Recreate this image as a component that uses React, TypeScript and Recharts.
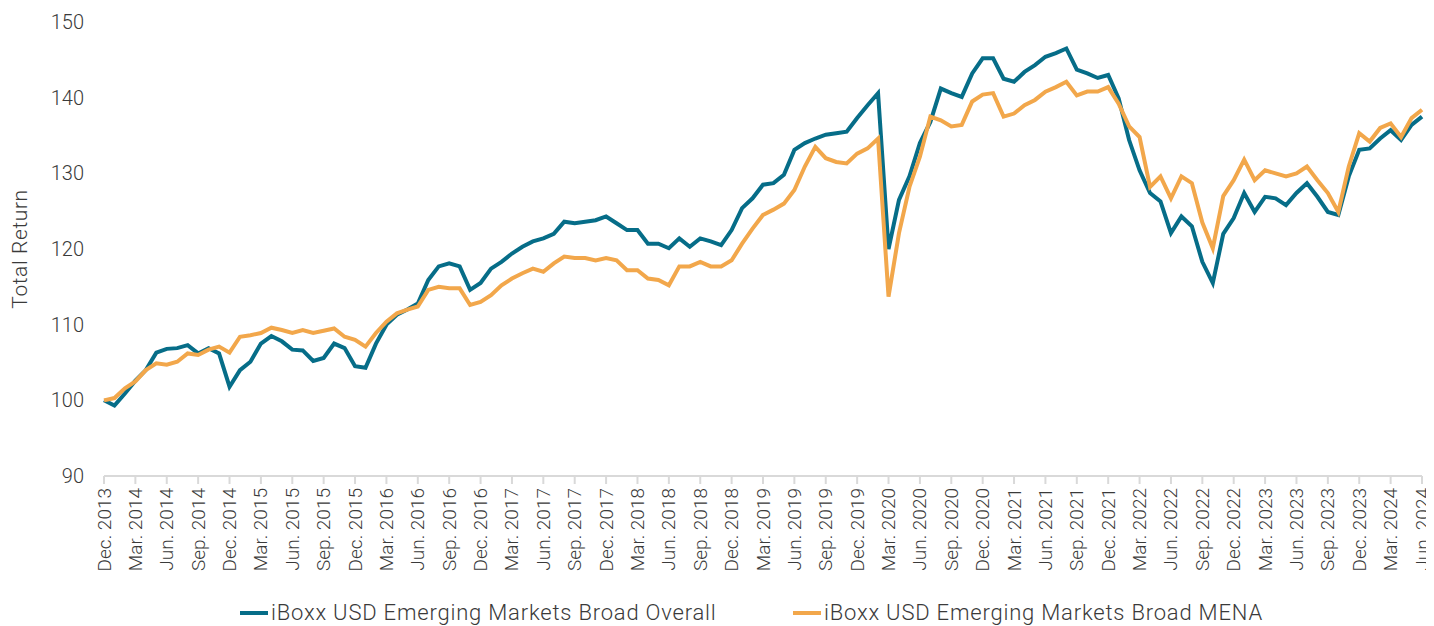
import { LineChart, Line, XAxis, YAxis, Legend, Label } from "recharts";

// monthly index levels, Dec. 2013 .. Jun. 2024
const overall = [
  100.0, 99.3, 100.9, 102.6, 104.0, 106.3, 106.8, 106.9, 107.3, 106.2, 106.9, 106.2,
  101.8, 104.0, 105.1, 107.5, 108.5, 107.8, 106.7, 106.6, 105.2, 105.6, 107.5, 106.9,
  104.5, 104.3, 107.5, 110.0, 111.3, 112.0, 112.8, 115.9, 117.7, 118.1, 117.7, 114.6,
  115.5, 117.4, 118.3, 119.4, 120.3, 121.0, 121.4, 122.0, 123.6, 123.4, 123.6, 123.8,
  124.3, 123.4, 122.5, 122.5, 120.7, 120.7, 120.1, 121.4, 120.3, 121.4, 121.0, 120.5,
  122.5, 125.4, 126.7, 128.5, 128.7, 129.8, 133.1, 134.0, 134.6, 135.1, 135.3, 135.5,
  137.3, 139.0, 140.6, 120.0, 126.5, 129.6, 134.0, 136.8, 141.2, 140.6, 140.1, 143.2,
  145.2, 145.2, 142.5, 142.1, 143.4, 144.3, 145.4, 145.9, 146.5, 143.7, 143.2, 142.6,
  143.0, 139.9, 134.4, 130.4, 127.4, 126.3, 122.1, 124.3, 123.0, 118.3, 115.5, 122.0,
  124.1, 127.4, 124.9, 126.9, 126.7, 125.8, 127.4, 128.7, 126.9, 124.9, 124.5, 129.6,
  133.1, 133.3, 134.6, 135.7, 134.4, 136.4, 137.5,
];

const mena = [
  100.0, 100.3, 101.6, 102.5, 104.0, 104.9, 104.7, 105.1, 106.2, 106.0, 106.7, 107.1,
  106.3, 108.4, 108.6, 108.9, 109.6, 109.3, 108.9, 109.3, 108.9, 109.2, 109.5, 108.4,
  108.0, 107.1, 108.9, 110.4, 111.5, 112.0, 112.4, 114.6, 115.0, 114.8, 114.8, 112.6,
  113.0, 113.9, 115.2, 116.1, 116.8, 117.4, 117.0, 118.1, 119.0, 118.8, 118.8, 118.5,
  118.8, 118.5, 117.2, 117.2, 116.1, 115.9, 115.2, 117.7, 117.7, 118.3, 117.7, 117.7,
  118.5, 120.7, 122.7, 124.5, 125.2, 126.0, 127.8, 130.9, 133.5, 132.0, 131.5, 131.3,
  132.6, 133.3, 134.6, 113.7, 122.1, 128.2, 132.2, 137.5, 137.0, 136.2, 136.4, 139.5,
  140.4, 140.6, 137.5, 137.9, 139.0, 139.7, 140.8, 141.4, 142.1, 140.3, 140.8, 140.8,
  141.4, 139.2, 136.2, 134.8, 128.2, 129.6, 126.7, 129.6, 128.7, 123.5, 120.1, 127.0,
  129.1, 131.8, 129.1, 130.4, 130.0, 129.6, 130.0, 130.9, 129.1, 127.4, 124.9, 130.9,
  135.3, 134.2, 136.0, 136.6, 134.8, 137.3, 138.4,
];

const quarterMonths = ["Dec.", "Mar.", "Jun.", "Sep."];
const firstYear = 2013;
const quarterCount = 43;
const yTicks = [90, 100, 110, 120, 130, 140, 150];

const seriesNames = {
  overall: "iBoxx USD Emerging Markets Broad Overall",
  mena: "iBoxx USD Emerging Markets Broad MENA",
};

const TEAL = "#066d88";
const ORANGE = "#f2a74b";
const TEXT = "#3a3a3a";
const FONT = "Roboto, sans-serif";

const xTicks = Array.from({ length: quarterCount }, (_, i) => i * 3);
const tickLabel = (m: number) => {
  const q = m / 3;
  const year = firstYear + Math.floor((q + 3) / 4);
  return `${quarterMonths[q % 4]} ${year}`;
};

const data = overall.map((v, i) => ({ m: i, overall: v, mena: mena[i] }));

const XTick = ({ x, y, payload }: any) => (
  <text
    x={x}
    y={y}
    transform={`rotate(-90, ${x}, ${y})`}
    textAnchor="end"
    dominantBaseline="central"
    fontFamily={FONT}
    fontWeight={300}
    fontSize={19}
    fill={TEXT}
  >
    {tickLabel(payload.value)}
  </text>
);

const YTick = ({ x, y, payload }: any) => (
  <text
    x={x}
    y={y}
    textAnchor="end"
    dominantBaseline="central"
    fontFamily={FONT}
    fontWeight={300}
    fontSize={20}
    fill={TEXT}
  >
    {payload.value}
  </text>
);

const LegendBox = () => (
  <div
    style={{
      position: "relative",
      height: 30,
      fontFamily: FONT,
      fontWeight: 300,
      fontSize: 22,
      letterSpacing: 0.8,
      color: TEXT,
    }}
  >
    {[
      { key: "overall", color: TEAL, left: 232 },
      { key: "mena", color: ORANGE, left: 785 },
    ].map((it) => (
      <div
        key={it.key}
        style={{ position: "absolute", left: it.left, top: 4, display: "flex", alignItems: "center", whiteSpace: "nowrap" }}
      >
        <span style={{ display: "inline-block", width: 28, height: 4, background: it.color, marginRight: 3 }} />
        <span>{seriesNames[it.key as keyof typeof seriesNames]}</span>
      </div>
    ))}
  </div>
);

export default function App() {
  return (
    <LineChart width={1426} height={618} data={data} margin={{ top: 14, right: 12, bottom: 0, left: 0 }}>
      <XAxis
        type="number"
        dataKey="m"
        domain={[0, 126]}
        ticks={xTicks}
        interval={0}
        height={120}
        tick={<XTick />}
        tickSize={8}
        tickMargin={4}
        axisLine={{ stroke: "#d9d9d9", strokeWidth: 2 }}
        tickLine={{ stroke: "#d9d9d9", strokeWidth: 2 }}
      />
      <YAxis
        domain={[90, 150]}
        ticks={yTicks}
        interval={0}
        width={96}
        axisLine={false}
        tickLine={false}
        tickSize={0}
        tickMargin={20}
        tick={<YTick />}
      >
        <Label
          content={({ viewBox }: any) => {
            const cx = viewBox.x + 12;
            const cy = viewBox.y + viewBox.height / 2;
            return (
              <text
                x={cx}
                y={cy}
                transform={`rotate(-90, ${cx}, ${cy})`}
                textAnchor="middle"
                dominantBaseline="central"
                fontFamily={FONT}
                fontWeight={300}
                fontSize={21}
                letterSpacing={0.6}
                fill={TEXT}
              >
                Total Return
              </text>
            );
          }}
        />
      </YAxis>
      <Line
        type="linear"
        dataKey="overall"
        stroke={TEAL}
        strokeWidth={4}
        dot={false}
        isAnimationActive={false}
      />
      <Line
        type="linear"
        dataKey="mena"
        stroke={ORANGE}
        strokeWidth={4}
        dot={false}
        isAnimationActive={false}
      />
      <Legend verticalAlign="bottom" height={30} content={<LegendBox />} />
    </LineChart>
  );
}
